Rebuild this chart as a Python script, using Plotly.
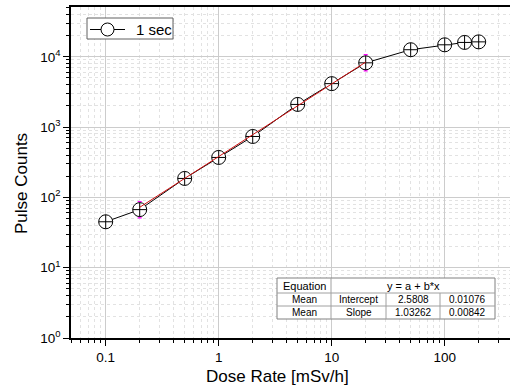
import plotly.graph_objects as go
import math

# ---- data ----
dose_rate = [0.1, 0.2, 0.5, 1, 2, 5, 10, 20, 50, 100, 150, 200]
pulse_counts = [45, 67, 186, 370, 735, 2100, 4150, 8200, 12600, 14800, 16000, 16300]
range_marker_up = [0, 20, 0, 0, 0, 0, 0, 2500, 0, 0, 0, 0]    # fit-range markers
range_marker_down = [0, 16, 0, 0, 0, 0, 0, 1900, 0, 0, 0, 0]
fit_intercept = 2.5808
fit_slope = 1.03262
fit_x = [0.2, 0.5, 1, 2, 5, 10, 20]
fit_y = [10 ** (fit_intercept + fit_slope * math.log10(v)) for v in fit_x]

y_tickvals = [1, 10, 100, 1000, 10000]
y_ticktext = ["10<sup>0</sup>", "10<sup>1</sup>", "10<sup>2</sup>", "10<sup>3</sup>", "10<sup>4</sup>"]
x_tickvals = [0.1, 1, 10, 100]
x_ticktext = ["0.1", "1", "10", "100"]

series_name = "1 sec"
x_title = "Dose Rate [mSv/h]"
y_title = "Pulse Counts"
table_header = ["Equation", "y = a + b*x"]
table_rows = [
    ["Mean", "Intercept", "2.5808", "0.01076"],
    ["Mean", "Slope", "1.03262", "0.00842"],
]

x_minor = [m * 10 ** e for e in range(-2, 3) for m in range(2, 10)]
y_minor = [m * 10 ** e for e in range(0, 5) for m in range(2, 10)]

W, H = 510, 390
L, R, T, B = 71, 0, 7, 52
pw, ph = W - L - R, H - T - B

FONT = "Arial, Liberation Sans, sans-serif"

fig = go.Figure()

fig.add_trace(go.Scatter(
    x=dose_rate, y=pulse_counts, mode="lines+markers", name=series_name,
    line=dict(color="black", width=1),
    marker=dict(symbol="circle-cross", size=14, color="white",
                line=dict(color="black", width=1)),
    error_y=dict(type="data", array=range_marker_up, arrayminus=range_marker_down,
                 symmetric=False, visible=True,
                 color="#ff00ff", thickness=1.2, width=2),
    showlegend=False,
))
fig.add_trace(go.Scatter(
    x=fit_x, y=fit_y, mode="lines",
    line=dict(color="#d01010", width=1), showlegend=False,
))

axis_common = dict(
    type="log", showline=True, linecolor="black", linewidth=1.5,
    ticks="outside", ticklen=6, tickwidth=1, tickcolor="black",
    showgrid=True, gridcolor="#cccccc", gridwidth=1,
    tickfont=dict(family=FONT, size=13.5, color="black"),
    zeroline=False, automargin=False,
)

fig.update_xaxes(
    **axis_common,
    range=[-1.307, 2.578],
    tickmode="array", tickvals=x_tickvals, ticktext=x_ticktext,
    minor=dict(tickmode="array", tickvals=x_minor, ticks="outside", ticklen=3,
               tickcolor="black", showgrid=True, gridcolor="#e2e2e2",
               griddash="dot", gridwidth=1),
    mirror=True,
)
fig.update_yaxes(
    **axis_common,
    range=[0, 4.708],
    tickmode="array", tickvals=y_tickvals, ticktext=y_ticktext,
    minor=dict(tickmode="array", tickvals=y_minor, ticks="outside", ticklen=3,
               tickcolor="black", showgrid=True, gridcolor="#e2e2e2",
               griddash="dot", gridwidth=1),
)

# ---- pixel layout -> paper coordinates ----
def px(xp):
    return (xp - L) / pw

def py(yp):
    return (H - B - yp) / ph

shapes = []
annotations = []

def text(xp, yp, s, size, angle=0, xanchor="center"):
    annotations.append(dict(xref="paper", yref="paper", x=px(xp), y=py(yp), text=s,
                            showarrow=False, xanchor=xanchor, yanchor="middle",
                            textangle=angle,
                            font=dict(family=FONT, size=size, color="black")))

# axis titles
text(277, 376, x_title, 17)
text(21.5, 183.5, y_title, 17, angle=-90)

# legend box
shapes.append(dict(type="rect", xref="paper", yref="paper",
                   x0=px(87), x1=px(173), y0=py(39), y1=py(18),
                   fillcolor="white", line=dict(color="#606060", width=1), layer="above"))
shapes.append(dict(type="line", xref="paper", yref="paper",
                   x0=px(90), x1=px(125), y0=py(29.5), y1=py(29.5),
                   line=dict(color="black", width=1), layer="above"))
shapes.append(dict(type="circle", xref="paper", yref="paper",
                   x0=px(101), x1=px(114), y0=py(36), y1=py(23),
                   fillcolor="white", line=dict(color="black", width=1), layer="above"))
text(134, 29.5, series_name, 15, xanchor="left")

# equation table
col_x = [277, 331, 386, 440, 495]
row_y = [278, 293, 306, 319]
shapes.append(dict(type="rect", xref="paper", yref="paper",
                   x0=px(col_x[0]), x1=px(col_x[-1]), y0=py(row_y[-1]), y1=py(row_y[0]),
                   fillcolor="white", line=dict(color="#808080", width=1), layer="above"))
for yy in row_y[1:-1]:
    shapes.append(dict(type="line", xref="paper", yref="paper",
                       x0=px(col_x[0]), x1=px(col_x[-1]), y0=py(yy), y1=py(yy),
                       line=dict(color="#a0a0a0", width=1), layer="above"))
shapes.append(dict(type="line", xref="paper", yref="paper",
                   x0=px(col_x[1]), x1=px(col_x[1]), y0=py(row_y[-1]), y1=py(row_y[0]),
                   line=dict(color="#a0a0a0", width=1), layer="above"))
for cx in col_x[2:-1]:
    shapes.append(dict(type="line", xref="paper", yref="paper",
                       x0=px(cx), x1=px(cx), y0=py(row_y[-1]), y1=py(row_y[1]),
                       line=dict(color="#a0a0a0", width=1), layer="above"))

text((col_x[0] + col_x[1]) / 2, (row_y[0] + row_y[1]) / 2, table_header[0], 11)
text((col_x[1] + col_x[4]) / 2, (row_y[0] + row_y[1]) / 2, table_header[1], 11)
for ri, row in enumerate(table_rows):
    for ci, s in enumerate(row):
        text((col_x[ci] + col_x[ci + 1]) / 2, (row_y[ri + 1] + row_y[ri + 2]) / 2, s, 10)

fig.update_layout(
    width=W, height=H,
    margin=dict(l=L, r=R, t=T, b=B, autoexpand=False),
    paper_bgcolor="white", plot_bgcolor="white",
    font=dict(family=FONT, color="black"),
    showlegend=False,
    shapes=shapes, annotations=annotations,
)

fig.write_html("out.html", config={"displayModeBar": False})
with open("out.html", encoding="utf-8") as f:
    html = f.read()
html = html.replace("<body>", '<body style="margin:0;padding:0;">', 1)
with open("out.html", "w", encoding="utf-8") as f:
    f.write(html)
